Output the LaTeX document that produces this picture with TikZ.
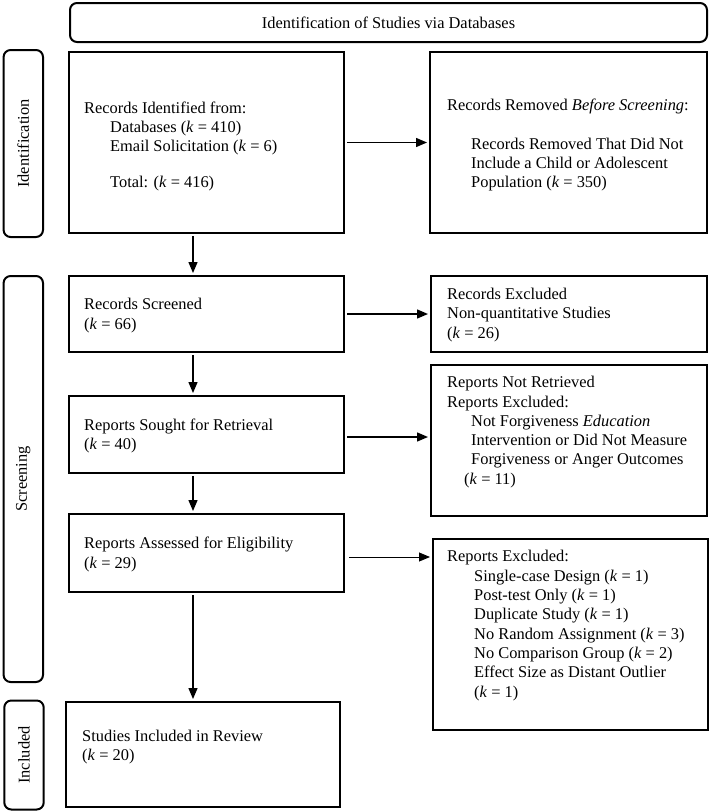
\documentclass[tikz,border=0pt]{standalone}
\usepackage{fontspec}
\setmainfont{Liberation Serif}
\usetikzlibrary{arrows.meta}
\begin{document}
\begin{tikzpicture}[x=1pt,y=-1pt,
  every node/.style={font=\fontsize{16.4}{19.3}\selectfont},
  box/.style={draw, line width=2pt, inner sep=0pt},
  lbl/.style={draw, line width=2pt, rounded corners=7pt, inner sep=0pt},
  txt/.style={anchor=west, align=left, inner sep=0pt},
  arr/.style={line width=1.4pt, -{Triangle[length=11pt,width=9pt]}, shorten <=2pt, shorten >=2pt},
  thinarr/.style={arr, line width=0.9pt}]
\useasboundingbox (0,0) rectangle (709,812);
% header and side labels
\node[lbl, minimum width=637pt, minimum height=39pt] (head) at (388.5,22.5) {Identification of Studies via Databases};
\node[lbl, rotate=90, minimum width=187pt, minimum height=39.4pt] (lI) at (23.3,143.5) {Identification};
\node[lbl, rotate=90, minimum width=406pt, minimum height=39.4pt] (lS) at (23.3,479) {Screening};
\node[lbl, rotate=90, minimum width=109pt, minimum height=39.4pt] (lN) at (24,755) {Included};
% boxes
\node[box, minimum width=275pt, minimum height=181pt] (b1) at (206.5,142.5) {};
\node[box, minimum width=277pt, minimum height=181pt] (b2) at (568.5,142.5) {};
\node[box, minimum width=275pt, minimum height=76pt] (b3) at (206.5,314) {};
\node[box, minimum width=276pt, minimum height=76pt] (b4) at (569,314) {};
\node[box, minimum width=275pt, minimum height=77pt] (b5) at (206.5,434.5) {};
\node[box, minimum width=276pt, minimum height=151pt] (b6) at (569,440.5) {};
\node[box, minimum width=275pt, minimum height=78pt] (b7) at (206.5,553) {};
\node[box, minimum width=275pt, minimum height=191pt] (b8) at (570.5,634.5) {};
\node[box, minimum width=274pt, minimum height=105pt] (b9) at (203,754.5) {};
% texts
\node[txt] (t1) at (84,146.5) {Records Identified from:\\
\hspace*{26pt}Databases (\textit{k} = 410)\\
\hspace*{26pt}Email Solicitation (\textit{k} = 6)\\[17pt]
\hspace*{26pt}Total: (\textit{k} = 416)};
\node[txt] (t2) at (447,145) {Records Removed \textit{Before Screening}:\\[19.3pt]
\hspace*{24pt}Records Removed That Did Not\\
\hspace*{24pt}Include a Child or Adolescent\\
\hspace*{24pt}Population (\textit{k} = 350)};
\node[txt] (t3) at (84,315.5) {Records Screened\\(\textit{k} = 66)};
\node[txt] (t4) at (447,315) {Records Excluded\\Non-quantitative Studies\\(\textit{k} = 26)};
\node[txt] (t5) at (84,436) {Reports Sought for Retrieval\\(\textit{k} = 40)};
\node[txt] (t6) at (447,432) {Reports Not Retrieved\\Reports Excluded:\\
\hspace*{24pt}Not Forgiveness \textit{Education}\\
\hspace*{24pt}Intervention or Did Not Measure\\
\hspace*{24pt}Forgiveness or Anger Outcomes\\
\hspace*{17pt}(\textit{k} = 11)};
\node[txt] (t7) at (84,554.5) {Reports Assessed for Eligibility\\(\textit{k} = 29)};
\node[txt] (t8) at (447,625.5) {Reports Excluded:\\
\hspace*{27pt}Single-case Design (\textit{k} = 1)\\
\hspace*{27pt}Post-test Only (\textit{k} = 1)\\
\hspace*{27pt}Duplicate Study (\textit{k} = 1)\\
\hspace*{27pt}No Random Assignment (\textit{k} = 3)\\
\hspace*{27pt}No Comparison Group (\textit{k} = 2)\\
\hspace*{27pt}Effect Size as Distant Outlier\\
\hspace*{27pt}(\textit{k} = 1)};
\node[txt] (t9) at (82,747) {Studies Included in Review\\(\textit{k} = 20)};
% connectors
\coordinate (ax) at (193,0);
\coordinate (y5) at (0,437);
\coordinate (y7) at (0,557);
\draw[arr] (b1.east) -- (b2.west);
\draw[arr] (b3.east) -- (b3.east -| b4.west);
\draw[arr] (b5.east |- y5) -- (b6.west |- y5);
\draw[thinarr, shorten <=4pt] (b7.east |- y7) -- (b8.west |- y7);
\draw[arr] (ax |- b1.south) -- (ax |- b3.north);
\draw[arr] (ax |- b3.south) -- (ax |- b5.north);
\draw[arr] (ax |- b5.south) -- (ax |- b7.north);
\draw[arr] (ax |- b7.south) -- (ax |- b9.north);
\end{tikzpicture}
\end{document}
